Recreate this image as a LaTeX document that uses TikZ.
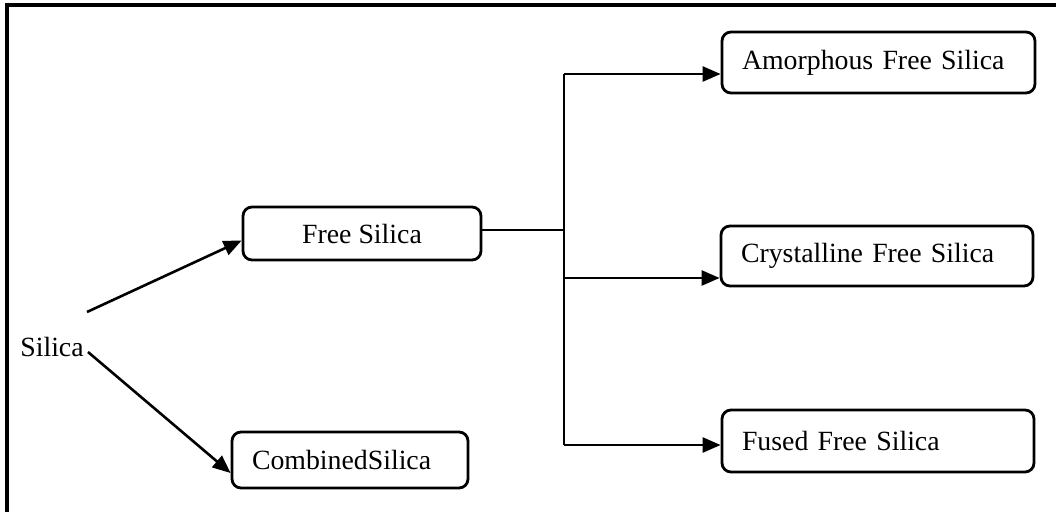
\documentclass[tikz,border=0pt]{standalone}
\usepackage{fontspec}
\setmainfont{Liberation Serif}
\usetikzlibrary{arrows.meta}
\begin{document}
\begin{tikzpicture}[x=1pt,y=-1pt,
  txt/.style={font=\fontsize{27.8}{33}\selectfont},
  box/.style={txt,draw=black,line width=2.8pt,rounded corners=9pt,inner ysep=0pt},
  lbox/.style={box,align=left,inner xsep=20pt},
  cbox/.style={box,align=center,inner xsep=0pt},
  conn/.style={draw=black,line width=2.6pt},
  arr/.style={conn,-{Triangle[length=18pt,width=15pt]}}]
\useasboundingbox (0,0) rectangle (1056,511);
\draw[line width=3.2pt] (1060,5) -- (7,5) -- (7,515);
\node[txt,inner sep=0pt] (silica) at (52,347) {Silica};
\node[cbox,minimum width=238pt,minimum height=53pt] (free) at (362,233.5) {Free Silica};
\node[lbox,text width=196pt,minimum height=56pt] (comb) at (350,460) {CombinedSilica};
\node[lbox,text width=273pt,minimum height=61pt] (amor) at (878.5,62.5) {Amorphous Free Silica};
\node[lbox,text width=272pt,minimum height=60pt] (crys) at (877,256) {Crystalline Free Silica};
\node[lbox,text width=272pt,minimum height=62pt] (fused) at (878,441) {Fused Free Silica};
\coordinate (s1) at (87,312);
\coordinate (s2) at (88,352);
\coordinate (ttop) at (564,74);
\coordinate (tmid) at (564,230);
\coordinate (tcry) at (564,278);
\coordinate (tbot) at (564,445);
\draw[arr] (s1) -- ([yshift=-7pt]free.west);
\draw[arr] (s2) -- ([yshift=-13pt]comb.west);
\draw[conn] (free.east |- tmid) -- (tmid);
\draw[conn] (ttop) -- (tbot);
\draw[arr] (ttop) -- (ttop -| amor.west);
\draw[arr] (tcry) -- (tcry -| crys.west);
\draw[arr] (tbot) -- (tbot -| fused.west);
\end{tikzpicture}
\end{document}
